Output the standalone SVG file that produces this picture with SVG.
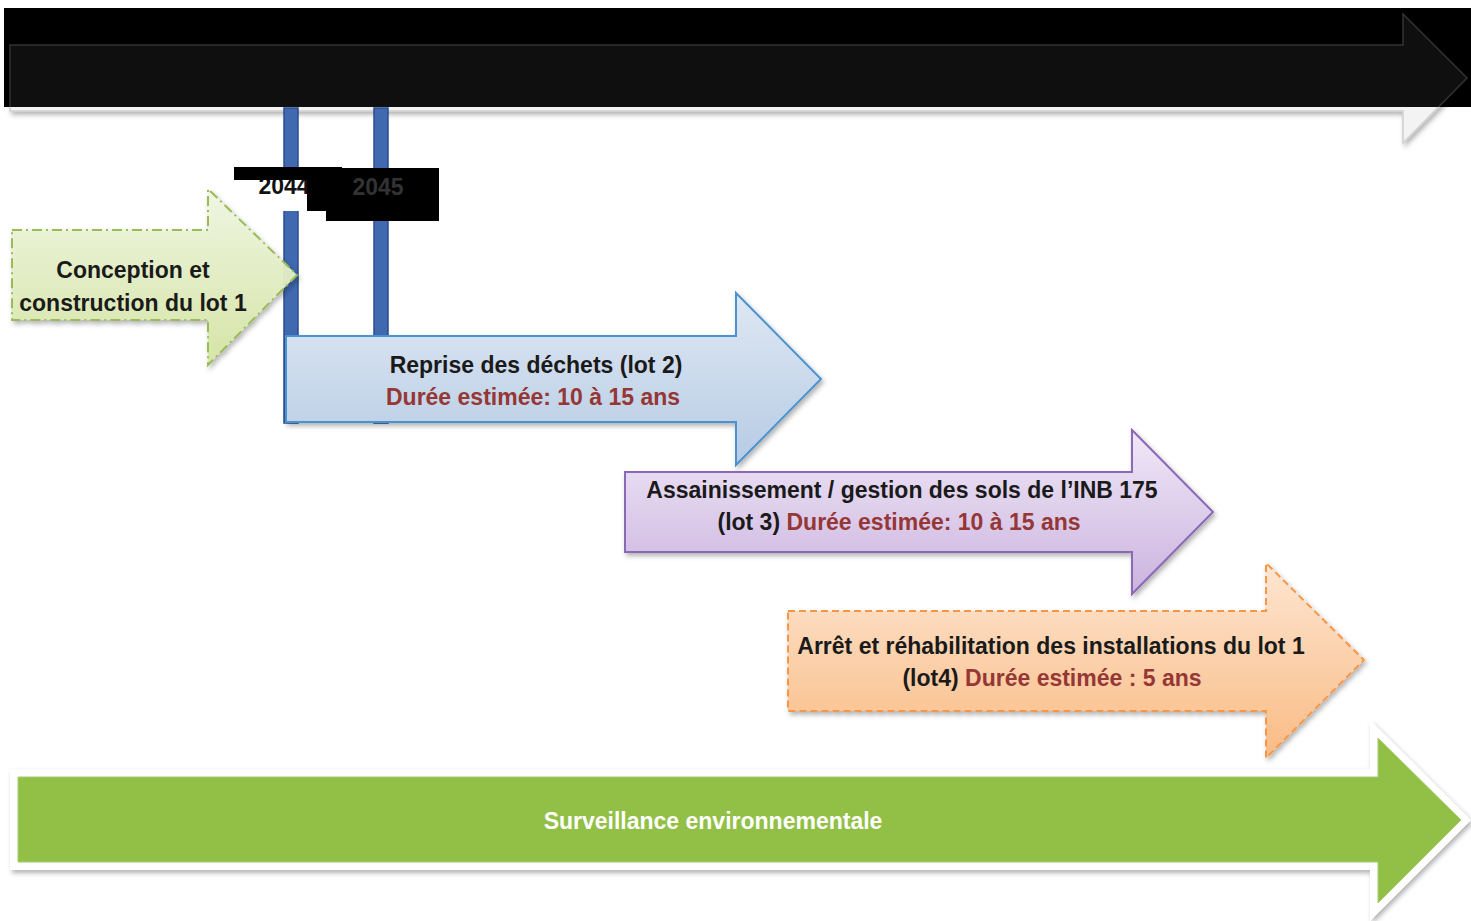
<svg xmlns="http://www.w3.org/2000/svg" width="1471" height="921" viewBox="0 0 1471 921">
<style>
  .t{font-family:"Liberation Sans",Arial,sans-serif;font-weight:bold;font-size:23px;text-anchor:middle;fill:#1a1a1a}
  .red{fill:#953735}
  .bar{fill:#4169b0;stroke:#2b4c8c;stroke-width:1.5}
</style>
<defs>
  <filter id="sh" x="-5%" y="-10%" width="115%" height="130%">
    <feDropShadow dx="2" dy="3" stdDeviation="2.5" flood-color="#000" flood-opacity="0.3"/>
  </filter>
  <linearGradient id="gGreen" x1="0" y1="0" x2="0" y2="1">
    <stop offset="0" stop-color="#f1f7e3"/><stop offset="1" stop-color="#d5e5a4"/>
  </linearGradient>
  <linearGradient id="gBlue" x1="0" y1="0" x2="0" y2="1">
    <stop offset="0" stop-color="#dfe8f3"/><stop offset="1" stop-color="#b6cbe4"/>
  </linearGradient>
  <linearGradient id="gPurple" x1="0" y1="0" x2="0" y2="1">
    <stop offset="0" stop-color="#f0e8f7"/><stop offset="1" stop-color="#cbb3df"/>
  </linearGradient>
  <linearGradient id="gOrange" x1="0" y1="0" x2="0" y2="1">
    <stop offset="0" stop-color="#fde6d2"/><stop offset="1" stop-color="#fabb84"/>
  </linearGradient>
  <clipPath id="cTop"><rect x="0" y="0" width="1471" height="107"/></clipPath>
  <clipPath id="cBot"><rect x="0" y="107" width="1471" height="814"/></clipPath>
</defs>

<g id="header">
  <polygon clip-path="url(#cBot)" points="10,45 1403,45 1403,14 1467,78 1403,143 1403,111 10,111" fill="#f3f3f3" stroke="#d0d0d0" stroke-width="1.5" filter="url(#sh)"/>
  <rect x="4" y="8" width="1467" height="99" fill="#000"/>
  <polygon clip-path="url(#cTop)" points="10,45 1403,45 1403,14 1467,78 1403,143 1403,111 10,111" fill="#0f0f0f" stroke="#333" stroke-width="1.5"/>
</g>

<g id="timeline-markers">
  <rect class="bar" x="284" y="108" width="14" height="315"/>
  <rect class="bar" x="374" y="108" width="14" height="315"/>
</g>

<g id="year-labels">
  <rect x="246" y="170" width="62" height="41" fill="#fff"/>
  <text class="t" x="284" y="194" style="fill:#111">2044</text>
  <rect x="234" y="167" width="108" height="13" fill="#000"/>
  <path d="M307,168 H439 V221 H326 V211 H307 Z" fill="#000"/>
  <text class="t" x="378" y="195" style="fill:#333">2045</text>
</g>

<g id="lot1">
  <polygon points="12,230 208,230 208,189 297,275 208,365 208,320 12,320" fill="url(#gGreen)" fill-opacity="0.95" stroke="#9bbb59" stroke-width="2" stroke-dasharray="10,4,2,4" filter="url(#sh)"/>
  <text class="t" x="133" y="278">Conception et</text>
  <text class="t" x="133" y="311">construction du lot 1</text>
</g>

<g id="lot2">
  <polygon points="286,336 736,336 736,293 821,379 736,465 736,422 286,422" fill="url(#gBlue)" stroke="#4a93d0" stroke-width="2" filter="url(#sh)"/>
  <text class="t" x="536" y="373">Reprise des déchets (lot 2)</text>
  <text class="t red" x="533" y="405">Durée estimée: 10 à 15 ans</text>
</g>

<g id="lot3">
  <polygon points="625,472 1132,472 1132,430 1213,512 1132,594 1132,552 625,552" fill="url(#gPurple)" stroke="#8a6bb5" stroke-width="2" filter="url(#sh)"/>
  <text class="t" x="902" y="498">Assainissement / gestion des sols de l’INB 175</text>
  <text class="t" x="899" y="530">(lot 3) <tspan class="red">Durée estimée: 10 à 15 ans</tspan></text>
</g>

<g id="lot4">
  <polygon points="788,611 1266,611 1266,563 1364,660 1266,758 1266,711 788,711" fill="url(#gOrange)" stroke="#f79646" stroke-width="2" stroke-dasharray="7,4" filter="url(#sh)"/>
  <text class="t" x="1051" y="654">Arrêt et réhabilitation des installations du lot 1</text>
  <text class="t" x="1052" y="686">(lot4) <tspan class="red">Durée estimée : 5 ans</tspan></text>
</g>

<g id="surveillance">
  <polygon points="10,769 1370,769 1370,720 1471,820 1370,921 1370,870 10,870" fill="#fff" filter="url(#sh)"/>
  <polygon points="18,777 1378,777 1378,738 1461,820 1378,903 1378,862 18,862" fill="#92c046" stroke="#a6cc70" stroke-width="1"/>
  <text class="t" x="713" y="829" style="fill:#fff">Surveillance environnementale</text>
</g>

<g id="connectors"/>
</svg>
